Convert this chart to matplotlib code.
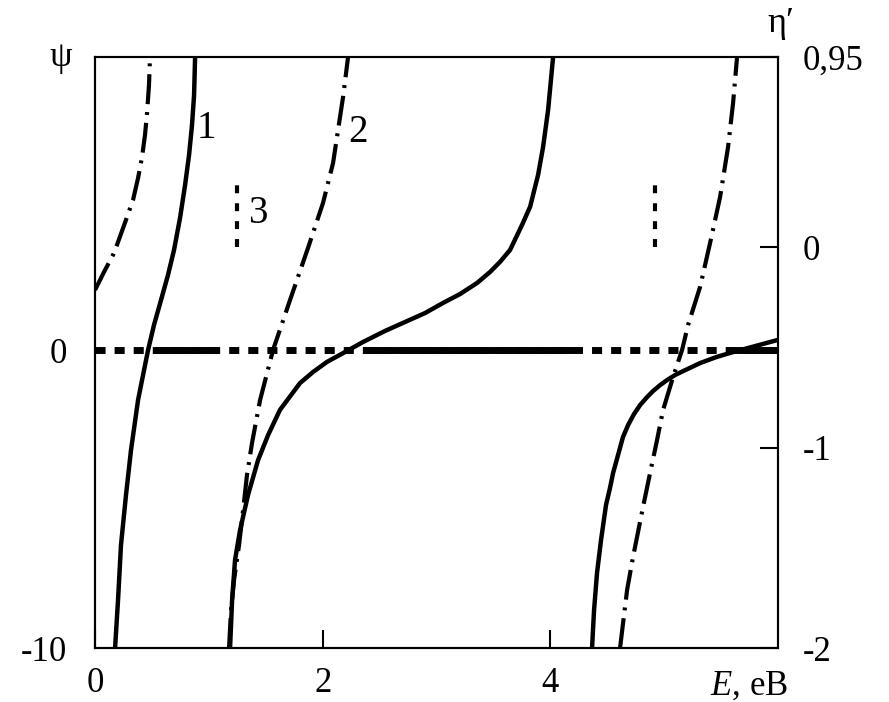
import matplotlib
matplotlib.use("Agg")
import matplotlib.pyplot as plt

plt.rcParams['font.family'] = ['Liberation Serif', 'DejaVu Serif']
plt.rcParams['mathtext.fontset'] = 'custom'
plt.rcParams['mathtext.rm'] = 'Liberation Serif'
plt.rcParams['mathtext.it'] = 'Liberation Serif:italic'
plt.rcParams['axes.unicode_minus'] = False

# крива 1 (psi, ліва вісь), три гілки
psi_E1 = [0.176, 0.202, 0.228, 0.272, 0.316, 0.378, 0.413, 0.466, 0.518, 0.580, 0.641, 0.694,
          0.747, 0.791, 0.826, 0.852, 0.870, 0.879]
psi_v1 = [-10.0, -8.39, -6.54, -4.86, -3.35, -1.67, -1.00, 0.01, 0.85, 1.69, 2.53, 3.37,
          4.45, 5.55, 6.56, 7.57, 8.57, 9.85]
psi_E2 = [1.186, 1.204, 1.230, 1.274, 1.344, 1.432, 1.520, 1.625, 1.801, 1.915, 2.038, 2.196,
          2.355, 2.548, 2.741, 2.899, 3.057, 3.207, 3.356, 3.470, 3.558, 3.646, 3.751, 3.822,
          3.892, 3.936, 3.980, 4.024]
psi_v2 = [-10.0, -8.39, -7.04, -6.04, -4.86, -3.69, -2.85, -2.00, -1.10, -0.73, -0.39, -0.06,
          0.28, 0.65, 0.98, 1.25, 1.59, 1.89, 2.26, 2.63, 2.97, 3.37, 4.21, 4.82,
          5.89, 6.83, 8.07, 9.85]
psi_E3 = [4.366, 4.384, 4.410, 4.445, 4.489, 4.524, 4.551, 4.595, 4.638, 4.683, 4.735, 4.788,
          4.850, 4.902, 4.964, 5.025, 5.096, 5.166, 5.315, 5.464, 5.605, 5.798, 6.0]
psi_v3 = [-10.0, -8.71, -7.47, -6.37, -5.19, -4.62, -4.12, -3.51, -2.91, -2.51, -2.14, -1.84,
          -1.57, -1.37, -1.17, -1.00, -0.83, -0.70, -0.43, -0.22, -0.06, 0.14, 0.35]

# крива 2 (eta', права вісь), три гілки
eta_E1 = [0.0, 0.079, 0.158, 0.193, 0.272, 0.334, 0.378, 0.413, 0.439, 0.457, 0.474, 0.483]
eta_v1 = [-0.213, -0.123, -0.038, 0.012, 0.137, 0.237, 0.346, 0.451, 0.561, 0.671, 0.811, 0.951]
eta_E2 = [1.177, 1.195, 1.221, 1.265, 1.291, 1.335, 1.379, 1.450, 1.564, 1.713, 1.871, 2.003,
          2.091, 2.135, 2.179, 2.223]
eta_v2 = [-2.0, -1.810, -1.661, -1.486, -1.361, -1.136, -0.977, -0.762, -0.512, -0.263, -0.003,
          0.222, 0.421, 0.586, 0.751, 0.951]
eta_E3 = [4.612, 4.647, 4.674, 4.726, 4.814, 4.876, 4.937, 4.990, 5.078, 5.157, 5.210, 5.315,
          5.403, 5.491, 5.561, 5.605, 5.640]
eta_v3 = [-2.0, -1.835, -1.710, -1.546, -1.296, -1.126, -0.962, -0.812, -0.647, -0.512, -0.387,
          -0.198, 0.022, 0.252, 0.501, 0.721, 0.951]

# крива 3: рівень psi = 0 та суцільні ділянки, вертикальні відрізки на правій осі
c3_E = [0.0, 6.0]
c3_v = [0.0, 0.0]
c3_band_start = [0.53, 2.37, 5.60]
c3_band_end = [1.03, 4.20, 6.0]
c3_mark_E = [1.247, 4.92]
c3_mark_lo = [0.0, 0.0]
c3_mark_hi = [0.34, 0.34]

x_ticks = [0, 2, 4]
x_labels = ['0', '2', '4']
psi_ticks = [-10, 0]
psi_labels = ['-10', '0']
eta_ticks = [-2, -1, 0, 0.95]
eta_labels = ['-2', '-1', '0', '0,95']

fig = plt.figure(figsize=(8.89, 7.02), dpi=100)
ax = fig.add_axes([0.1069, 0.0769, 0.7683, 0.8419])
ax2 = ax.twinx()

solid = dict(color='black', lw=3.2, solid_capstyle='butt', solid_joinstyle='round')
for E, v in [(psi_E1, psi_v1), (psi_E2, psi_v2), (psi_E3, psi_v3)]:
    ax.plot(E, v, **solid)

dashdot = dict(color='black', lw=3.0, dash_capstyle='butt', dashes=(7.2, 1.9, 0.7, 1.9))
for E, v in [(eta_E1, eta_v1), (eta_E2, eta_v2), (eta_E3, eta_v3)]:
    ax2.plot(E, v, **dashdot)

ax.plot(c3_E, c3_v, color='black', lw=5, dashes=(1.45, 1.3), dash_capstyle='butt')
ax.hlines([0.0] * len(c3_band_start), c3_band_start, c3_band_end, color='black', lw=5)
ax2.vlines(c3_mark_E, c3_mark_lo, c3_mark_hi, color='black', lw=3,
           linestyles=[(0, (1.9, 2.4))])

ax.set_xlim(0, 6)
ax.set_ylim(-10, 9.85)
ax2.set_ylim(-2, 0.95)

ax.set_xticks(x_ticks, x_labels)
ax.set_yticks(psi_ticks, psi_labels)
ax2.set_yticks(eta_ticks, eta_labels)
ax.tick_params(axis='x', direction='in', length=13, width=1.5, pad=14, labelsize=25)
ax.tick_params(axis='y', length=0, pad=20, labelsize=25)
ax2.tick_params(axis='y', direction='in', length=13, width=1.5, pad=18, labelsize=25)
for a in (ax, ax2):
    for s in a.spines.values():
        s.set_linewidth(1.5)

# підписи кривих та осей
ax.text(0.975, 7.45, '1', fontsize=28, ha='center', va='center')
ax.text(2.31, 7.32, '2', fontsize=28, ha='center', va='center')
ax.text(1.432, 4.6, '3', fontsize=28, ha='center', va='center')
ax.text(-0.05, 1.0, 'ψ', transform=ax.transAxes, fontsize=26, ha='center', va='center')
ax.text(1.004, 1.0575, 'η′', transform=ax.transAxes, fontsize=26, ha='center', va='center')
ax.text(1.0146, -0.036, r'$E$, eB', transform=ax.transAxes, fontsize=25, ha='right', va='top')

fig.savefig('out.png', dpi=100)
